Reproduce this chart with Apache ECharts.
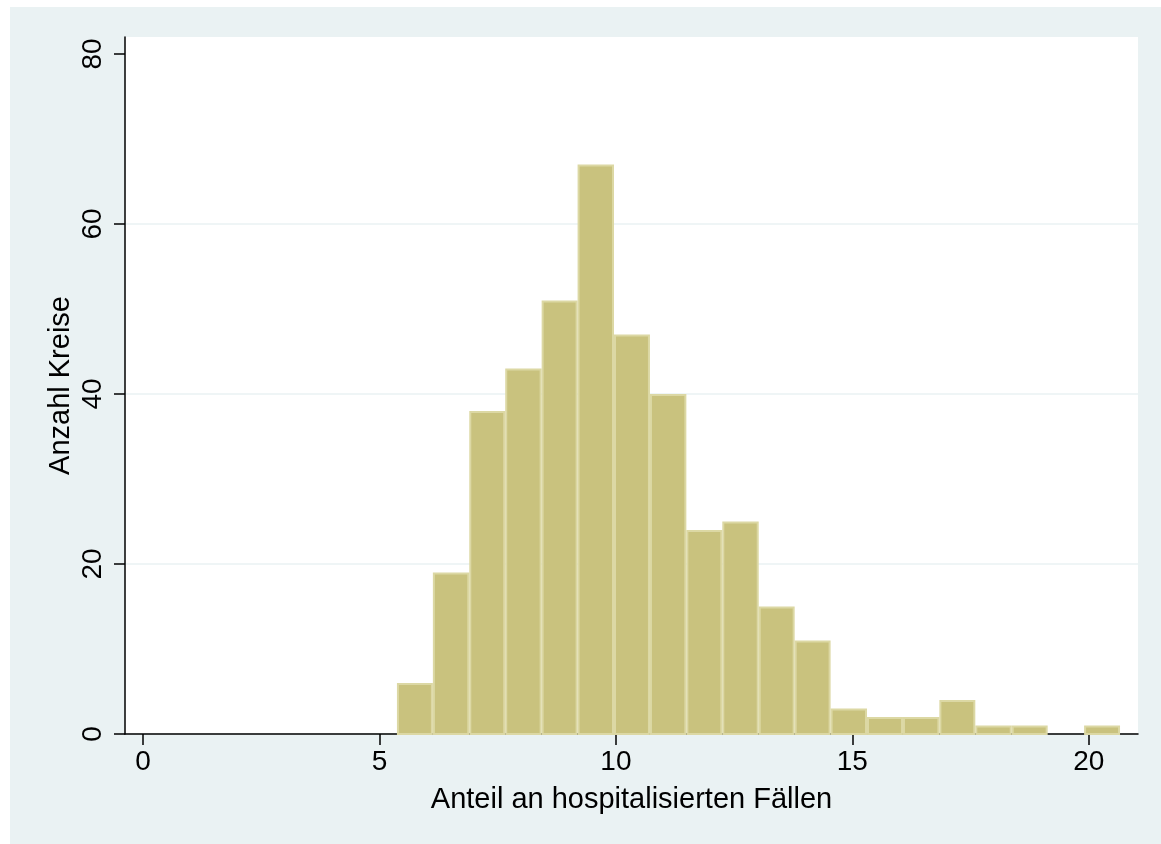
<!DOCTYPE html>
<html>
<head>
<meta charset="utf-8">
<script src="https://cdn.jsdelivr.net/npm/echarts@6/dist/echarts.min.js"></script>
<style>
html, body { margin: 0; padding: 0; background: #ffffff; }
#chart { position: absolute; left: 10px; top: 7px; width: 1151px; height: 837px; }
</style>
</head>
<body>
<div id="chart"></div>
<script>
// Histogram bin edges and counts per bin
const binEdges = [5.37, 6.13, 6.90, 7.66, 8.43, 9.19, 9.96, 10.72, 11.49, 12.25, 13.02,
                  13.78, 14.54, 15.31, 16.07, 16.84, 17.60, 18.37, 19.13, 19.90, 20.66];
const counts = [6, 19, 38, 43, 51, 67, 47, 40, 24, 25, 15, 11, 3, 2, 2, 4, 1, 1, 0, 1];
const xTicks = [0, 5, 10, 15, 20];
const yTicks = [0, 20, 40, 60, 80];
const xTitle = 'Anteil an hospitalisierten Fällen';
const yTitle = 'Anzahl Kreise';

const bars = counts.map((c, i) => [binEdges[i], binEdges[i + 1], c]);

const FONT = '"Liberation Sans", Arial, Helvetica, sans-serif';
const chart = echarts.init(document.getElementById('chart'));
chart.setOption({
  backgroundColor: '#EAF2F3',
  animation: false,
  grid: {
    left: 115, top: 30, right: 23, bottom: 110,
    show: true, backgroundColor: '#ffffff', borderWidth: 0
  },
  xAxis: {
    type: 'value', min: -0.38, max: 21.04,
    name: xTitle, nameLocation: 'middle', nameGap: 51,
    nameTextStyle: { fontFamily: FONT, fontSize: 29, color: '#000' },
    axisLine: { show: true, onZero: false, lineStyle: { color: '#000', width: 1.5 } },
    axisTick: { show: true, length: 11, customValues: xTicks, lineStyle: { color: '#000', width: 1.5 } },
    axisLabel: { customValues: xTicks, margin: 14, fontFamily: FONT, fontSize: 28, color: '#000' },
    splitLine: { show: false }
  },
  yAxis: {
    type: 'value', min: 0, max: 82,
    name: yTitle, nameLocation: 'middle', nameGap: 50, nameMoveOverlap: false,
    nameTextStyle: { fontFamily: FONT, fontSize: 29, color: '#000' },
    axisLine: { show: true, onZero: false, lineStyle: { color: '#000', width: 1.5 } },
    axisTick: { show: true, length: 11, customValues: yTicks, lineStyle: { color: '#000', width: 1.5 } },
    axisLabel: { customValues: yTicks, rotate: 90, margin: 18, fontFamily: FONT, fontSize: 28, color: '#000' },
    splitLine: { show: true, lineStyle: { color: ['#EAF2F3', '#EAF2F3', '#EAF2F3', '#EAF2F3', '#ffffff'], width: 1.5 } }
  },
  series: [{
    type: 'custom',
    data: bars,
    encode: { x: [0, 1], y: 2 },
    renderItem: function (params, api) {
      const lo = api.value(0), hi = api.value(1), c = api.value(2);
      if (!c) return null;
      const p0 = api.coord([lo, c]);
      const p1 = api.coord([hi, 0]);
      return {
        type: 'rect',
        shape: { x: p0[0] + 1, y: p0[1] + 1, width: p1[0] - p0[0] - 2, height: p1[1] - p0[1] - 1 },
        style: { fill: '#C9C27E', stroke: '#DCD8A4', lineWidth: 2 }
      };
    }
  }]
});
</script>
</body>
</html>
